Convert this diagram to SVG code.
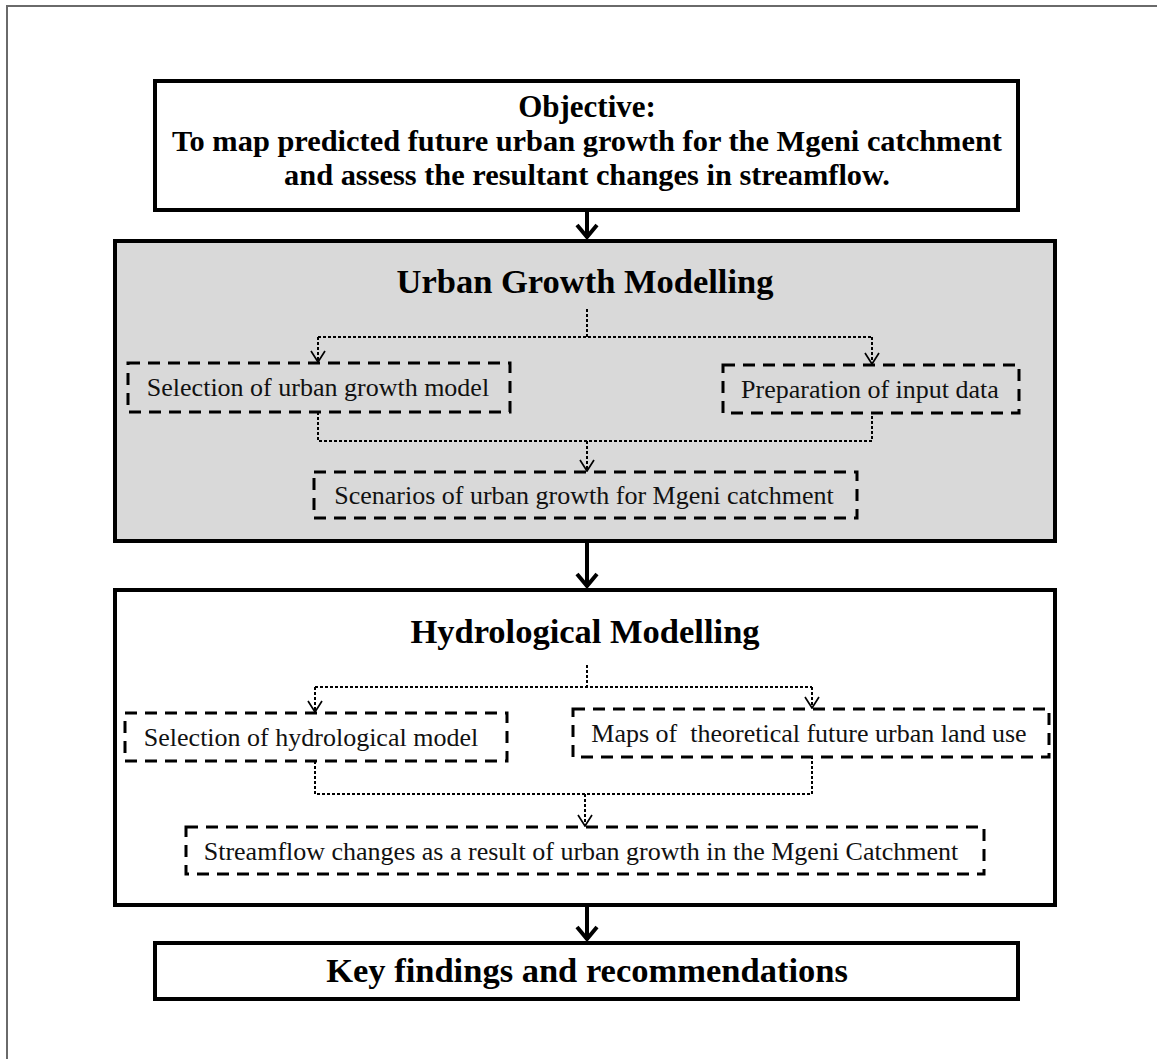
<svg xmlns="http://www.w3.org/2000/svg" width="1157" height="1059" viewBox="0 0 1157 1059">
  <style>
    .frame { fill: none; stroke: #6a6a6a; stroke-width: 2; }
    .main { stroke: #000; stroke-width: 4; }
    .solid { fill: #fff; }
    .shaded { fill: #d9d9d9; }
    .sub { fill: none; stroke: #000; stroke-width: 3; stroke-dasharray: 12 8; }
    .flow { fill: none; stroke: #000; stroke-width: 2; stroke-dasharray: 3 2; }
    .bigarrow { fill: none; stroke: #000; stroke-width: 4; }
    .hd { font-family: "Liberation Serif", "Times New Roman", serif; font-weight: bold; fill: #000; text-anchor: middle; }
    .bd { font-family: "Liberation Serif", "Times New Roman", serif; font-size: 26px; fill: #111; text-anchor: middle; white-space: pre; }
  </style>
  <defs>
    <!-- open chevron heads, drawn pointing along +x so orient="auto" turns them down the line -->
    <marker id="thin" viewBox="0 0 13 16" refX="12" refY="8" markerWidth="13" markerHeight="16" markerUnits="userSpaceOnUse" orient="auto">
      <path d="M1 1 L12 8 L1 15" fill="none" stroke="#000" stroke-width="1.7"/>
    </marker>
    <marker id="thick" viewBox="0 0 18 24" refX="16" refY="12" markerWidth="18" markerHeight="24" markerUnits="userSpaceOnUse" orient="auto">
      <path d="M3 2 L15 12 L3 22" fill="none" stroke="#000" stroke-width="4"/>
    </marker>
  </defs>

  <rect width="1157" height="1059" fill="#fff"/>
  <path class="frame" d="M7 1059 V6 H1157"/>

  <g id="objective">
    <rect class="main solid" x="155" y="81" width="863" height="129"/>
    <text class="hd" x="587" y="117" font-size="31">Objective:</text>
    <text class="hd" x="587" y="151" font-size="30.4">To map predicted future urban growth for the Mgeni catchment</text>
    <text class="hd" x="587" y="185" font-size="30.4">and assess the resultant changes in streamflow.</text>
  </g>

  <g id="urban-growth-modelling">
    <rect class="main shaded" x="115" y="241" width="940" height="300"/>
    <text class="hd" x="585" y="293" font-size="34.5">Urban Growth Modelling</text>
  </g>
  <g id="select-urban-model">
    <rect class="sub" x="128" y="363" width="382" height="49"/>
    <text class="bd" x="318" y="396">Selection of urban growth model</text>
  </g>
  <g id="input-data">
    <rect class="sub" x="723" y="365" width="296" height="48"/>
    <text class="bd" x="870" y="398">Preparation of input data</text>
  </g>
  <g id="scenarios">
    <rect class="sub" x="314" y="472" width="543" height="46"/>
    <text class="bd" x="584" y="504">Scenarios of urban growth for Mgeni catchment</text>
  </g>

  <g id="hydrological-modelling">
    <rect class="main solid" x="115" y="590" width="940" height="315"/>
    <text class="hd" x="585" y="643" font-size="34.5">Hydrological Modelling</text>
  </g>
  <g id="select-hydro-model">
    <rect class="sub" x="125" y="713" width="382" height="48"/>
    <text class="bd" x="311" y="746">Selection of hydrological model</text>
  </g>
  <g id="land-use-maps">
    <rect class="sub" x="573" y="709" width="476" height="48"/>
    <text class="bd" x="809" y="742">Maps of  theoretical future urban land use</text>
  </g>
  <g id="streamflow-changes">
    <rect class="sub" x="186" y="827" width="798" height="47"/>
    <text class="bd" x="581" y="860">Streamflow changes as a result of urban growth in the Mgeni Catchment</text>
  </g>

  <g id="key-findings">
    <rect class="main solid" x="155" y="943" width="863" height="56"/>
    <text class="hd" x="587" y="982" font-size="34.5">Key findings and recommendations</text>
  </g>

  <g id="connectors">
    <!-- stage to stage -->
    <path class="bigarrow" d="M587 210 V238" marker-end="url(#thick)"/>
    <path class="bigarrow" d="M587 541 V587" marker-end="url(#thick)"/>
    <path class="bigarrow" d="M587 905 V940" marker-end="url(#thick)"/>
    <!-- urban growth modelling flow -->
    <path class="flow" d="M587 309 V337"/>
    <path class="flow" d="M318 337 H872"/>
    <path class="flow" d="M318 337 V362" marker-end="url(#thin)"/>
    <path class="flow" d="M872 337 V364" marker-end="url(#thin)"/>
    <path class="flow" d="M318 412 V441 H872 V413"/>
    <path class="flow" d="M587 441 V471" marker-end="url(#thin)"/>
    <!-- hydrological modelling flow -->
    <path class="flow" d="M587 665 V687"/>
    <path class="flow" d="M315 687 H812"/>
    <path class="flow" d="M315 687 V712" marker-end="url(#thin)"/>
    <path class="flow" d="M812 687 V708" marker-end="url(#thin)"/>
    <path class="flow" d="M315 761 V794 H812 V757"/>
    <path class="flow" d="M585 794 V826" marker-end="url(#thin)"/>
  </g>
</svg>
